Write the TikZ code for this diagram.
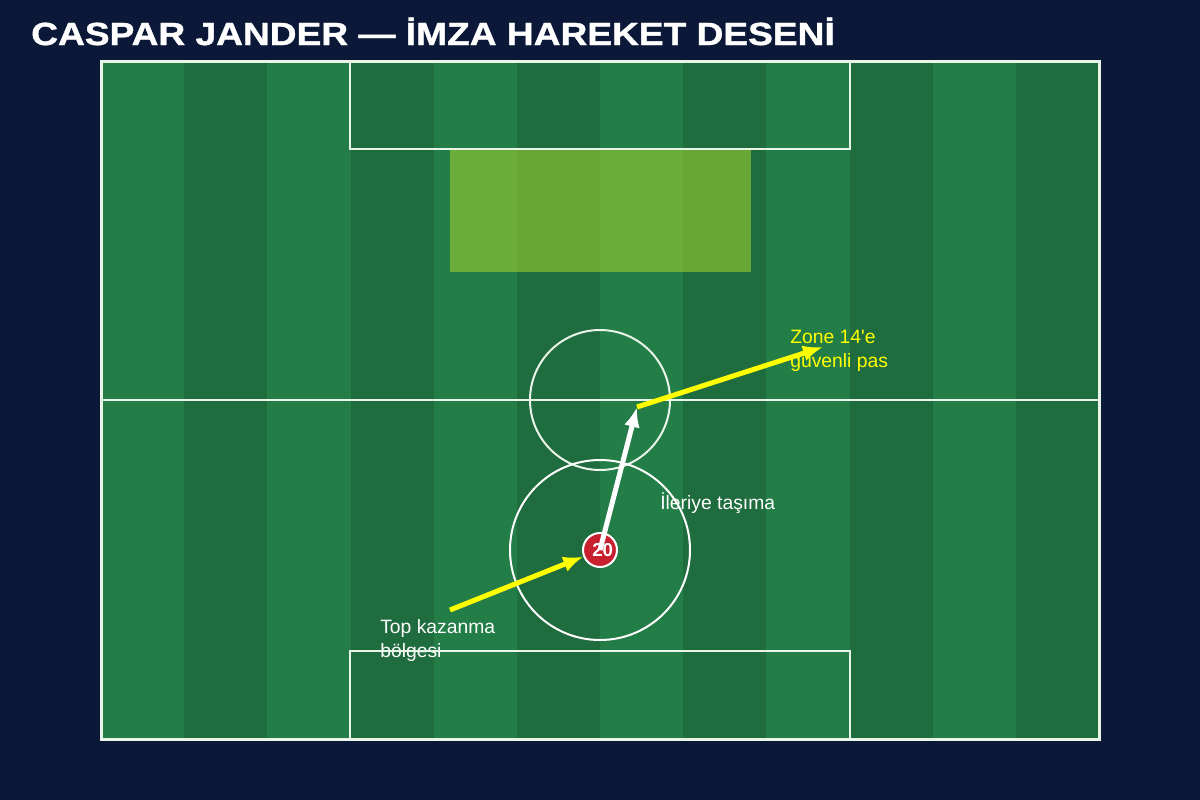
\documentclass[tikz,border=0pt]{standalone}
\usepackage{fontspec}
\setmainfont{Liberation Sans}
\newfontfamily\titlefont[FakeStretch=1.16, FakeBold=1.2]{Liberation Sans}
\usetikzlibrary{arrows.meta, positioning}
\definecolor{navybg}{HTML}{0B1838}
\definecolor{grasslight}{HTML}{237D46}
\definecolor{grassdark}{HTML}{1F6C3E}
\definecolor{linemint}{HTML}{E8F5E8}
\definecolor{zonegreen}{HTML}{9ACD32}
\definecolor{dotred}{HTML}{C8202F}
\definecolor{passyellow}{HTML}{FFFF00}
\tikzset{
  >={Latex[length=15pt,width=12pt]},
  base/.style = {inner sep=0pt, font=\fontsize{14.5}{18}\selectfont, align=left},
}

\begin{document}
\begin{tikzpicture}[x=0.75pt, y=-0.75pt,
            pitchline/.style = {draw=linemint, line width=1.5pt},
            label/.style     = {base, text=white},
            zonelabel/.style = {base, text=passyellow},
            pass/.style      = {->, draw=passyellow, line width=3.75pt},
            carry/.style     = {->, draw=white, line width=3.75pt},
            player/.style    = {circle, fill=dotred, draw=white, line width=1.5pt,
                                minimum size=25.5pt, inner sep=0pt, text=white,
                                font=\fontsize{14}{14}\selectfont\bfseries},
        ]
        \fill[navybg] (0,0) rectangle (1200,800);
        \useasboundingbox (0,0) rectangle (1200,800);

        % grass stripes
        \foreach \i in {0,...,11} {
          \pgfmathsetmacro\sx{101+\i*83.1667}
          \ifodd\i
            \fill[grassdark] (\sx,61) rectangle ++(83.1667,678);
          \else
            \fill[grasslight] (\sx,61) rectangle ++(83.1667,678);
          \fi
        }

        % zone 14
        \fill[zonegreen, opacity=0.6] (450,150) rectangle (751,272);

        \node[label, anchor=north west] (win label) at (380,619) {Top kazanma\\bölgesi};
        \node[label, anchor=base west] (carry label) at (660,509) {İleriye taşıma};
        \node[zonelabel, anchor=north west] (zone label) at (790,330) {Zone 14\textquotesingle e\\güvenli pas};

        % pitch markings
        \draw[pitchline, line width=2.25pt] (101,61) rectangle (1099,739);
        \draw[pitchline] (101,400) -- (1099,400);
        \draw[pitchline] (350,61) rectangle (850,149);
        \draw[pitchline] (350,739) rectangle (850,651);
        \draw[pitchline] (600,400) circle[radius=70];
        \draw[draw=white, line width=1.5pt] (600,550) circle[radius=90];

        \node[player] (p20) at (600,550) {\hspace{4pt}20};
        \coordinate (win)  at (450,610);
        \coordinate (drive) at (637,407);
        \coordinate (zone) at (823,347);

        \draw[pass]  (win)        -- (p20);
        \draw[carry] (p20.center) -- (drive);
        \draw[pass]  (drive)      -- (zone);

        \node[anchor=base west, inner sep=0pt, text=white,
              font=\titlefont\fontsize{24}{24}\selectfont\bfseries] (title) at (31,45)
              {CASPAR JANDER — İMZA HAREKET DESENİ};
        \end{tikzpicture}
\end{document}
